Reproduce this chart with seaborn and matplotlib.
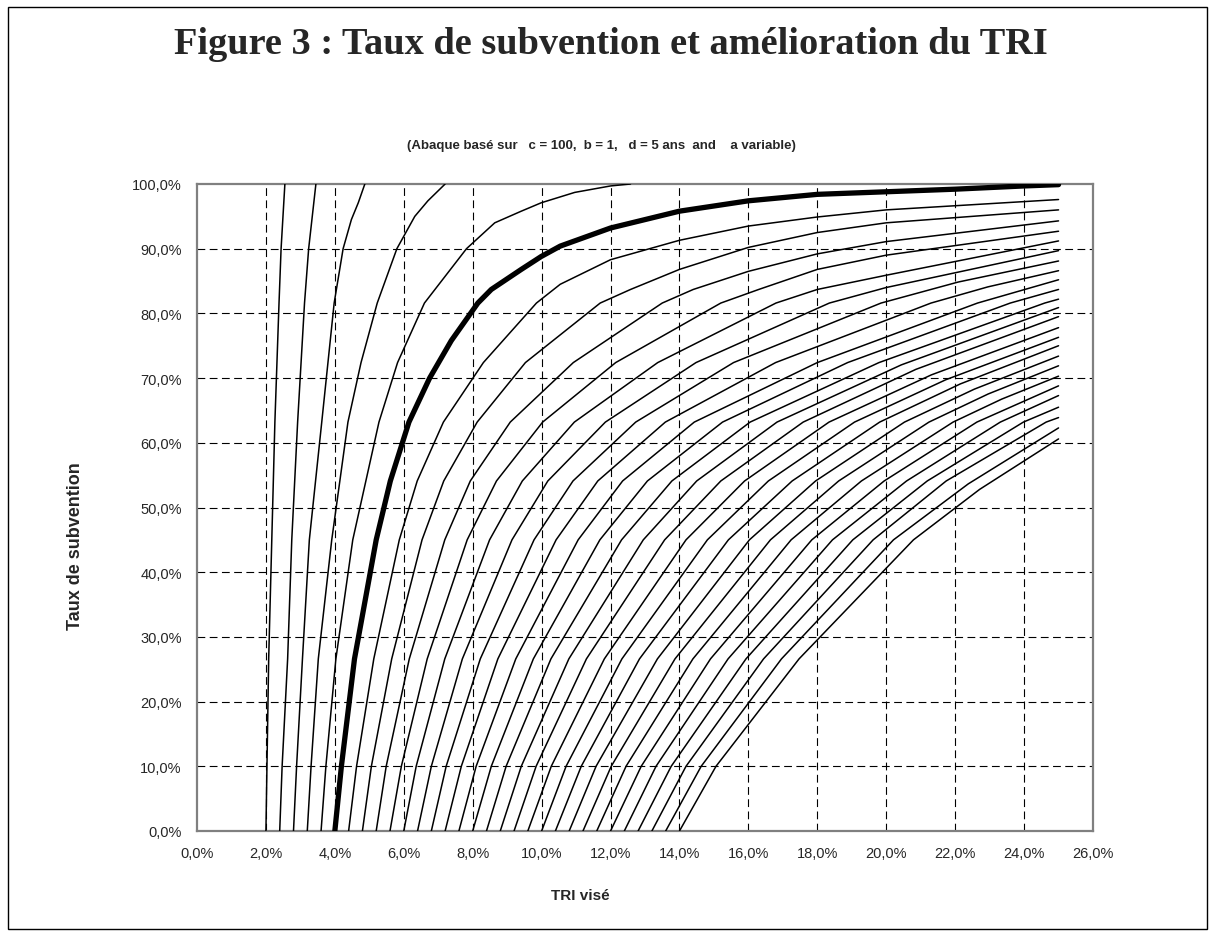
import matplotlib
matplotlib.use("Agg")
import matplotlib.pyplot as plt
import matplotlib.patches as mpatches
import seaborn as sns
import pandas as pd

# ---------------- data ----------------
# --- curves that reach 100 % subsidy (TRI without subsidy 2.0 ... 3.6 %) ---
LEFT_SUB = [0, 10, 26.6, 45, 63.2, 81.6, 90, 100]
c20_tri = [2.0, 2.03, 2.08, 2.17, 2.26, 2.38, 2.44, 2.55]
c24_tri = [2.4, 2.47, 2.63, 2.75, 2.92, 3.12, 3.24, 3.45]
c28_tri = [2.8, 2.89, 3.06, 3.26, 3.62, 3.98, 4.24, 4.48, 4.68, 4.87]
c28_sub = [0, 10, 26.6, 45, 63.2, 81.6, 90, 94.5, 97.1, 100]
c32_tri = [3.2, 3.31, 3.52, 3.91, 4.38, 4.76, 5.23, 5.80, 6.32, 6.70, 7.20]
c32_sub = [0, 10, 26.6, 45, 63.2, 72.4, 81.6, 90, 95, 97.4, 100]
c36_tri = [3.6, 3.74, 4.03, 4.52, 5.28, 5.82, 6.60, 7.82, 8.64, 9.41, 9.99, 10.96, 12.0, 12.58]
c36_sub = [0, 10, 26.6, 45, 63.2, 72.4, 81.6, 90, 94, 95.8, 97.1, 98.7, 99.7, 100]

# --- bold curve (TRI without subsidy 4.0 %) ---
thick_tri = [4.0, 4.19, 4.57, 5.2, 5.61, 6.15, 6.75, 7.38, 8.15, 8.54, 9.41, 9.99, 10.54,
             12.0, 14.0, 16.0, 18.0, 20.0, 22.0, 24.0, 25.0]
thick_sub = [0, 10, 26.6, 45, 54.1, 63.2, 70, 75.8, 81.6, 83.7, 86.8, 88.8, 90.4,
             93.2, 95.8, 97.4, 98.4, 98.8, 99.2, 99.7, 99.9]

# --- curves staying below 100 % (TRI without subsidy 4.4 ... 14.0 %) ---
RIGHT_SUB = [0, 10, 26.6, 45, 63.2, 81.6]
right_tri = [
    [4.4, 4.63, 5.13, 5.87, 7.15, 9.85],
    [4.8, 5.06, 5.65, 6.53, 8.13, 11.70],
    [5.2, 5.49, 6.16, 7.19, 9.09, 13.50],
    [5.6, 5.93, 6.68, 7.84, 10.03, 15.20],
    [6.0, 6.36, 7.19, 8.49, 10.95, 16.80],
    [6.4, 6.80, 7.70, 9.14, 11.85, 18.35],
    [6.8, 7.23, 8.22, 9.78, 12.73, 19.85],
    [7.2, 7.67, 8.73, 10.42, 13.59, 21.30],
    [7.6, 8.10, 9.25, 11.06, 14.43, 22.65],
    [8.0, 8.54, 9.76, 11.69, 15.25, 23.60],
    [8.4, 8.97, 10.27, 12.32, 16.05, 24.60],
    [8.8, 9.41, 10.79, 12.95, 16.83, None],
    [9.2, 9.84, 11.30, 13.57, 17.59, None],
    [9.6, 10.28, 11.82, 14.19, 18.34, None],
    [10.0, 10.71, 12.33, 14.81, 19.08, None],
    [10.4, 11.15, 12.84, 15.42, 19.81, None],
    [10.8, 11.58, 13.36, 16.03, 20.53, None],
    [11.2, 12.02, 13.87, 16.64, 21.24, None],
    [11.6, 12.45, 14.39, 17.24, 21.94, None],
    [12.0, 12.89, 14.90, 17.84, 22.63, None],
    [12.4, 13.32, 15.41, 18.44, 23.31, None],
    [12.8, 13.76, 15.93, 19.03, 23.98, None],
    [13.2, 14.19, 16.44, 19.62, 24.64, None],
    [13.6, 14.63, 16.96, 20.21, None, None],
    [14.0, 15.06, 17.47, 20.79, None, None],
]
# further points read between those levels and in the upper right part
right_more_tri = [
    [6.39, 8.31, 10.54, 12.0, 14.0, 16.0, 18.0, 20.0],
    [7.16, 9.53, 12.58, 14.0, 16.0, 18.0, 20.0],
    [7.93, 10.92, 14.4, 16.0, 18.0, 20.0],
    [8.69, 12.15, 16.3, 18.0, 20.0],
    [9.44, 13.37, 18.0, 20.0],
    [10.18, 14.48, 20.0],
    [10.91, 15.57, 22.09],
    [11.63, 16.79, 22.95],
    [12.35, 18.00],
    [13.07, 18.88],
    [13.78, 19.79],
    [14.50, 20.44],
    [15.20, 20.86],
    [15.89, 21.31],
    [16.58, 21.73],
    [17.27, 22.15],
    [17.95, 22.56],
    [18.62, 22.96],
    [19.28, 23.35],
    [19.94],
    [20.59],
    [21.19],
    [21.74],
    [22.38],
    [22.71],
]
right_more_sub = [
    [54.1, 72.4, 84.5, 88.3, 91.3, 93.5, 94.9, 96.0],
    [54.1, 72.4, 83.7, 86.8, 90.2, 92.5, 94.0],
    [54.1, 72.4, 83.7, 86.5, 89.2, 91.1],
    [54.1, 72.4, 83.7, 86.8, 89.0],
    [54.1, 72.4, 83.7, 85.9],
    [54.1, 72.4, 84.0],
    [54.1, 72.4, 84.85],
    [54.1, 72.4, 84.1],
    [54.1, 72.4],
    [54.1, 72.4],
    [54.1, 72.4],
    [54.1, 72.05],
    [54.1, 71.35],
    [54.1, 70.5],
    [54.1, 69.75],
    [54.1, 69.1],
    [54.1, 68.3],
    [54.1, 67.55],
    [54.1, 66.75],
    [54.1],
    [54.1],
    [54.1],
    [54.1],
    [53.65],
    [52.8],
]
right_end_sub = [97.6, 96.0, 94.3, 92.7, 91.2, 89.7, 88.1, 86.6, 85.2, 83.7, 82.2, 80.9,
                 79.5, 77.8, 76.3, 75.0, 73.4, 71.9, 70.3, 68.8, 67.3, 65.5, 63.9, 62.3, 60.6]
END_TRI = 25.0

x_ticks = [0, 2, 4, 6, 8, 10, 12, 14, 16, 18, 20, 22, 24, 26]
y_ticks = [0, 10, 20, 30, 40, 50, 60, 70, 80, 90, 100]

# ---------------- long table for seaborn ----------------
rows = []
cid = 0
for xs, ss in [(c20_tri, LEFT_SUB), (c24_tri, LEFT_SUB), (c28_tri, c28_sub),
               (c32_tri, c32_sub), (c36_tri, c36_sub)]:
    for x, s in zip(xs, ss):
        rows.append((cid, x, s))
    cid += 1
for xs, mx, ms, es in zip(right_tri, right_more_tri, right_more_sub, right_end_sub):
    pts = [(x, s) for x, s in zip(xs, RIGHT_SUB) if x is not None]
    pts += list(zip(mx, ms))
    pts.append((END_TRI, es))
    pts.sort(key=lambda p: p[1])
    for x, s in pts:
        rows.append((cid, x, s))
    cid += 1
thin = pd.DataFrame(rows, columns=["curve", "tri", "sub"])
thick = pd.DataFrame({"curve": 0, "tri": thick_tri, "sub": thick_sub})

# ---------------- figure ----------------
sns.set_theme(style="white")
plt.rcParams["font.family"] = ["Liberation Sans", "DejaVu Sans"]

W, H = 1222, 945
fig = plt.figure(figsize=(W / 100, H / 100), dpi=100)
ax = fig.add_axes([197 / W, 1 - 832 / H, (1093 - 197) / W, (832 - 185) / H])

for y in y_ticks[1:-1]:
    ax.axhline(y, color="black", lw=0.8, ls=(0, (7, 4)), zorder=1)
for x in x_ticks[1:-1]:
    ax.axvline(x, color="black", lw=0.8, ls=(0, (7, 4)), zorder=1)

sns.lineplot(data=thin, x="tri", y="sub", units="curve", estimator=None, sort=False,
             color="black", lw=1.1, ax=ax, zorder=3, legend=False)
sns.lineplot(data=thick, x="tri", y="sub", units="curve", estimator=None, sort=False,
             color="black", lw=3.8, ax=ax, zorder=4, legend=False)

ax.set_xlim(0, 26)
ax.set_ylim(0, 100)
ax.set_xticks(x_ticks)
ax.set_yticks(y_ticks)
ax.set_xticklabels([f"{v:.1f}%".replace(".", ",") for v in x_ticks], fontsize=10.5)
ax.set_yticklabels([f"{v:.1f}%".replace(".", ",") for v in y_ticks], fontsize=10.5)
ax.tick_params(axis="both", direction="out", length=5, width=1, color="#808080", pad=6)
for sp in ax.spines.values():
    sp.set_color("#808080")
    sp.set_linewidth(1.6)
ax.set_xlabel("")
ax.set_ylabel("")

fig.text(580 / W, 1 - 896 / H, "TRI visé", ha="center", va="center",
         fontsize=11, fontweight="bold")
fig.text(76 / W, 1 - 546 / H, "Taux de subvention", ha="center", va="center",
         rotation=90, fontsize=13, fontweight="bold")

fig.text(611 / W, 1 - 45 / H, "Figure 3 : Taux de subvention et amélioration du TRI",
         ha="center", va="center", fontsize=27.6, fontweight="bold",
         family=["Liberation Serif", "DejaVu Serif"])
fig.text(601 / W, 1 - 146 / H,
         "(Abaque basé sur   c = 100,  b = 1,   d = 5 ans  and    a variable)",
         ha="center", va="center", fontsize=9.5, fontweight="bold",
         family=["Liberation Sans Narrow", "Liberation Sans", "DejaVu Sans"])

fig.patches.append(mpatches.Rectangle((8 / W, 1 - 930 / H), (1207 - 8) / W, (930 - 8) / H,
                                      transform=fig.transFigure, fill=False,
                                      edgecolor="black", lw=1.0))

fig.savefig("out.png", dpi=100)
